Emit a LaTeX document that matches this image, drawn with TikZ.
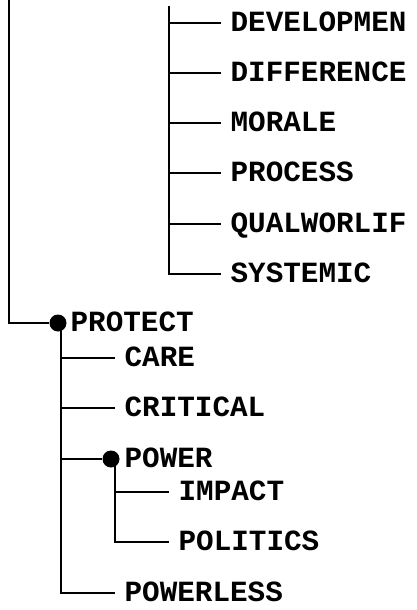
\documentclass[tikz,border=0pt]{standalone}
\usepackage{fontspec}
\setmonofont{Liberation Mono}
\begin{document}
\begin{tikzpicture}[x=1pt,y=-1pt,
  line width=1.3pt,
  lbl/.style={anchor=west,inner xsep=9pt,inner ysep=0pt,text height=17pt,text depth=0pt,
    font=\fontsize{29.3}{30}\selectfont\ttfamily\bfseries},
  dot/.style={circle,fill=black,inner sep=0pt,minimum size=17pt}]
\useasboundingbox (0,0) rectangle (416,610);
% top part
\coordinate (topL) at (9,0);
\coordinate (topR) at (169,6);
\node[lbl] (devel) at (221,23) {DEVELOPMEN};
\node[lbl] (diff) at (221,73) {DIFFERENCE};
\node[lbl] (morale) at (221,123) {MORALE};
\node[lbl] (process) at (221,173) {PROCESS};
\node[lbl] (qual) at (221,224) {QUALWORLIF};
\node[lbl] (syst) at (221,274) {SYSTEMIC};
\draw (topR) |- (syst.west);
\foreach \n in {devel,diff,morale,process,qual}
  \draw (topR |- \n.west) -- (\n.west);
% protect
\node[dot] (dprot) at (58,323) {};
\node[lbl] (protect) at (61,323) {PROTECT};
\draw (topL) |- (dprot);
\coordinate (pv) at (61,323);
\node[lbl] (care) at (115,358) {CARE};
\node[lbl] (crit) at (115,408) {CRITICAL};
\node[dot] (dpow) at (111,459) {};
\node[lbl] (power) at (115,459) {POWER};
\node[lbl] (powerless) at (115,593) {POWERLESS};
\draw (pv) |- (powerless.west);
\draw (pv |- care.west) -- (care.west);
\draw (pv |- crit.west) -- (crit.west);
\draw (pv |- dpow) -- (dpow);
% power
\coordinate (wv) at (115,459);
\node[lbl] (impact) at (169,492) {IMPACT};
\node[lbl] (politics) at (169,542) {POLITICS};
\draw (wv) |- (politics.west);
\draw (wv |- impact.west) -- (impact.west);
\end{tikzpicture}
\end{document}
